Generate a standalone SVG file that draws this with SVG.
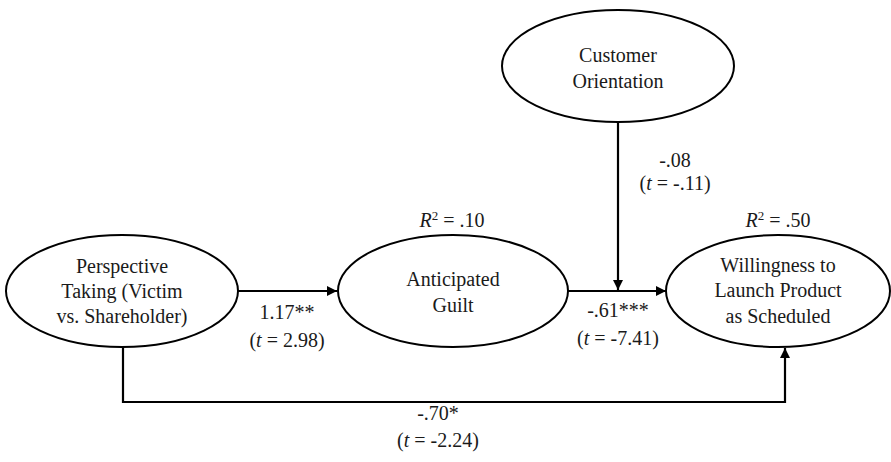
<svg xmlns="http://www.w3.org/2000/svg" width="891" height="462" viewBox="0 0 891 462">
<style>
.n{fill:#fff;stroke:#000;stroke-width:2}
.c{fill:none;stroke:#000;stroke-width:2.2}
.i{font-style:italic}
</style>
<defs>
<marker id="ah" viewBox="0 0 10 10" refX="10" refY="5" markerWidth="10" markerHeight="10" markerUnits="userSpaceOnUse" orient="auto">
<path d="M0,0 L10,5 L0,10 Z" fill="#000"/>
</marker>
</defs>
<rect width="891" height="462" fill="#fff"/>
<g id="connectors">
<line class="c" x1="238" y1="291" x2="337" y2="291" marker-end="url(#ah)"/>
<line class="c" x1="568" y1="291" x2="666" y2="291" marker-end="url(#ah)"/>
<line class="c" x1="618" y1="123" x2="618" y2="290" marker-end="url(#ah)"/>
<polyline class="c" points="123,347 123,402 785,402 785,348" marker-end="url(#ah)"/>
</g>
<g font-family="Liberation Serif, Times New Roman, serif" font-size="20" fill="#1a1a1a" text-anchor="middle">
<g id="perspective">
<ellipse class="n" cx="122" cy="291" rx="116" ry="56"/>
<text x="122" y="273">Perspective</text>
<text x="122" y="298">Taking (Victim</text>
<text x="122" y="323">vs. Shareholder)</text>
</g>
<g id="guilt">
<ellipse class="n" cx="453" cy="291" rx="115" ry="56"/>
<text x="453" y="286">Anticipated</text>
<text x="453" y="312">Guilt</text>
</g>
<g id="customer">
<ellipse class="n" cx="618" cy="66" rx="116" ry="56"/>
<text x="618" y="62">Customer</text>
<text x="618" y="88">Orientation</text>
</g>
<g id="willingness">
<ellipse class="n" cx="778" cy="291" rx="112" ry="56"/>
<text x="778" y="272">Willingness to</text>
<text x="778" y="297">Launch Product</text>
<text x="778" y="323">as Scheduled</text>
</g>
<g id="labels">
<text x="452" y="227"><tspan class="i">R</tspan><tspan font-size="13" dy="-7">2</tspan><tspan dy="7"> = .10</tspan></text>
<text x="778" y="227"><tspan class="i">R</tspan><tspan font-size="13" dy="-7">2</tspan><tspan dy="7"> = .50</tspan></text>
<text x="287" y="319">1.17**</text>
<text x="287" y="347">(<tspan class="i">t</tspan> = 2.98)</text>
<text x="618" y="317">-.61***</text>
<text x="618" y="345">(<tspan class="i">t</tspan> = -7.41)</text>
<text x="675" y="167">-.08</text>
<text x="675" y="190">(<tspan class="i">t</tspan> = -.11)</text>
<text x="438" y="420">-.70*</text>
<text x="438" y="447">(<tspan class="i">t</tspan> = -2.24)</text>
</g>
</g>
</svg>
